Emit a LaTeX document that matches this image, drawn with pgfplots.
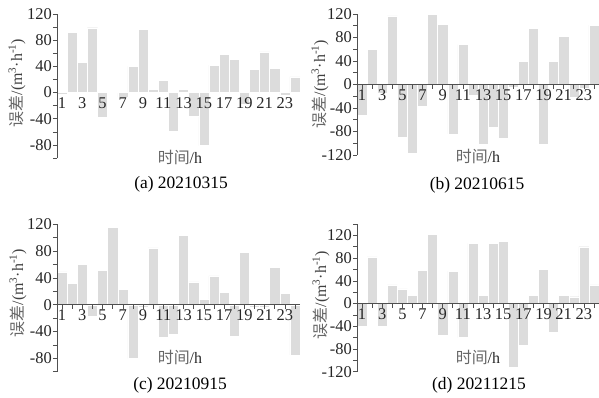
\documentclass[border=0pt]{standalone}
\usepackage{pgfplots}
\pgfplotsset{compat=1.18}
\usepackage{fontspec}
\setmainfont{Liberation Serif}
\newfontfamily\cjk{Noto Sans CJK SC}
\definecolor{barc}{HTML}{DCDCDC}
\definecolor{axc}{HTML}{505050}
\newcommand{\fs}{\fontsize{16}{16}\selectfont}
\newcommand{\fc}{\fontsize{17.5}{17.5}\selectfont}
\newcommand{\ylab}{\fs{\cjk\color{black!60}误差}/(m\textsuperscript{3}·h\textsuperscript{-1})}
\newcommand{\xlab}{\fs{\cjk\color{black!60}时间}/h}

\pgfplotsset{
 panel/.style={
  scale only axis, width=243bp,
  xmin=0.5, xmax=24.5,
  axis y line=left, axis x line=middle,
  x axis line style={-, axc, line width=0.6pt},
  y axis line style={-, axc, line width=0.8pt},
  xtick={1,...,24},
  xticklabels={1,,3,,5,,7,,9,,11,,13,,15,,17,,19,,21,,23,},
  ytick={-120,-80,...,120},
  minor ytick={-100,-60,...,140},
  tick style={axc, line width=0.6pt},
  major tick length=4bp, minor tick length=4bp,
  ytick align=outside, xtick align=inside,
  tick label style={font=\fontsize{16.5}{16.5}\selectfont, text=black!85},
  /pgf/number format/assume math mode=true,
  xticklabel style={inner sep=1bp},
  yticklabel style={inner sep=1bp},
  ybar, bar width=1,
  every axis plot post/.style={fill=barc, draw=white, line width=0.4pt},
  clip=false, axis on top,
 }
}

\begin{document}
\begin{tikzpicture}
\useasboundingbox (0,0) rectangle (599bp,-398bp);

% (a)
\begin{axis}[panel, at={(57bp,-158bp)}, anchor=south west, height=144bp,
  ymin=-100, ymax=120,
  x axis line style={draw=none}, xtick style={draw=none}]
\addplot coordinates {(1,-3) (2,92) (3,46) (4,99) (5,-38) (6,2) (7,-7) (8,40)
 (9,97) (10,5) (11,19) (12,-59) (13,5) (14,-36) (15,-81) (16,42) (17,58)
 (18,51) (19,-18) (20,35) (21,62) (22,37) (23,-4) (24,24)};
\end{axis}

% (b)
\begin{axis}[panel, at={(357bp,-155bp)}, anchor=south west, height=141bp, width=242bp,
  ymin=-120, ymax=120]
\addplot coordinates {(1,-53) (2,60) (3,-15) (4,117) (5,-90) (6,-117) (7,-37) (8,120)
 (9,102) (10,-84) (11,68) (12,-18) (13,-101) (14,-72) (15,-92) (16,-5) (17,40)
 (18,96) (19,-101) (20,39) (21,82) (22,-21) (23,-7) (24,101)};
\end{axis}

% (c)
\begin{axis}[panel, at={(57bp,-371.7bp)}, anchor=south west, height=147.4bp,
  ymin=-100, ymax=120]
\addplot coordinates {(1,49) (2,32) (3,60) (4,-17) (5,51) (6,115) (7,23) (8,-80)
 (9,-4) (10,85) (11,-49) (12,-44) (13,103) (14,34) (15,8) (16,43) (17,18)
 (18,-47) (19,78) (20,-4) (21,-4) (22,56) (23,17) (24,-75)};
\end{axis}

% (d)
\begin{axis}[panel, at={(357bp,-371.7bp)}, anchor=south west, height=147.7bp, width=242bp,
  ymin=-120, ymax=140]
\addplot coordinates {(1,-40) (2,82) (3,-40) (4,33) (5,26) (6,14) (7,58) (8,122)
 (9,-56) (10,57) (11,-60) (12,106) (13,15) (14,106) (15,110) (16,-112) (17,-73)
 (18,15) (19,60) (20,-51) (21,14) (22,12) (23,100) (24,33)};
\end{axis}

% labels
\node[rotate=90, text=black!75, inner sep=0] at (17bp,-83bp) {\ylab};
\node[rotate=90, text=black!75, inner sep=0] at (320bp,-84bp) {\ylab};
\node[rotate=90, text=black!75, inner sep=0] at (18bp,-293bp) {\ylab};
\node[rotate=90, text=black!75, inner sep=0] at (321bp,-295bp) {\ylab};

\node[text=black!85, inner sep=0] at (180bp,-157bp) {\xlab};
\node[text=black!85, inner sep=0] at (478bp,-156bp) {\xlab};
\node[text=black!85, inner sep=0] at (180bp,-357bp) {\xlab};
\node[text=black!85, inner sep=0] at (478bp,-357bp) {\xlab};

\node[inner sep=0] at (181bp,-184bp) {\fc (a) 20210315};
\node[inner sep=0] at (477bp,-185bp) {\fc (b) 20210615};
\node[inner sep=0] at (180bp,-385bp) {\fc (c) 20210915};
\node[inner sep=0] at (479bp,-385bp) {\fc (d) 20211215};
\end{tikzpicture}
\end{document}
